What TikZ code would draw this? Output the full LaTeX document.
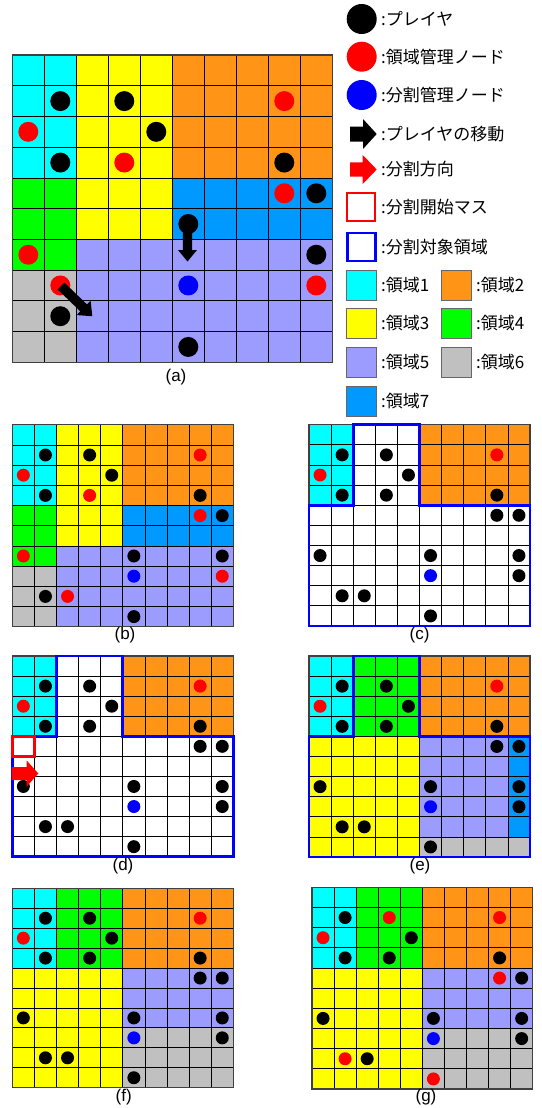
\documentclass[tikz,border=0pt]{standalone}
\usepackage{fontspec}
\newfontfamily\jp{Noto Sans CJK JP}
\newfontfamily\lab{Liberation Sans}
\definecolor{rcyan}{HTML}{00FFFF}
\definecolor{rorange}{HTML}{FF9416}
\definecolor{ryellow}{HTML}{FFFF00}
\definecolor{rgreen}{HTML}{00FF00}
\definecolor{rlav}{HTML}{9C9CFF}
\definecolor{rgray}{HTML}{C0C0C0}
\definecolor{rblue}{HTML}{0099FF}
\definecolor{mred}{HTML}{FF0000}
\definecolor{dblue}{HTML}{0000FF}
\tikzset{
  gl/.style={draw=black, line width=0.8pt},
  frame/.style={draw=black!75, line width=1.1pt},
  tb/.style={draw=dblue, line width=2.7pt, line join=miter},
  dotbase/.style={circle, inner sep=0pt, draw=none},
  plA/.style={dotbase, fill=black, minimum size=20pt},
  mgA/.style={dotbase, fill=mred, minimum size=20pt},
  dvA/.style={dotbase, fill=dblue, minimum size=20pt},
  pl/.style={dotbase, fill=black, minimum size=13pt},
  mg/.style={dotbase, fill=mred, minimum size=13pt},
  dv/.style={dotbase, fill=dblue, minimum size=13pt},
  plL/.style={dotbase, fill=black, minimum size=30pt},
  mgL/.style={dotbase, fill=mred, minimum size=30pt},
  dvL/.style={dotbase, fill=dblue, minimum size=30pt},
  txt/.style={anchor=west, inner sep=0pt, font=\jp\fontsize{17}{20}\selectfont},
  swatch/.style={rectangle, inner sep=0pt, minimum size=30pt, draw=black!60, line width=0.8pt},
  hollow/.style={rectangle, inner sep=0pt, minimum size=28pt, fill=white, line width=2.7pt},
  caplabel/.style={inner sep=0pt, font=\lab\fontsize{17}{20}\selectfont},
}
% block arrow: colour, x, y, angle, length, shaft half, head half, head length
\newcommand{\blockarrow}[8]{%
  \fill[#1, shift={(#2pt,-#3pt)}, rotate=#4]
    (0pt,-#6pt) -- (#5pt-#8pt,-#6pt) -- (#5pt-#8pt,-#7pt) -- (#5pt,0pt)
    -- (#5pt-#8pt,#7pt) -- (#5pt-#8pt,#6pt) -- (0pt,#6pt) -- cycle;}
\newcommand{\gridlines}{%
  \foreach \i in {1,...,9}{\draw[gl] (\i,0) -- (\i,10); \draw[gl] (0,\i) -- (10,\i);}
  \draw[frame] (0,0) rectangle (10,10);}
\newcommand{\targetborder}{%
  \draw[tb] (2,0) -- (5,0) -- (5,4) -- (10,4) -- (10,10) -- (0,10) -- (0,4) -- (2,4) -- cycle;}
\newcommand{\pd}[4]{\node[#1] (#2) at (#3+0.5,#4+0.5) {};}
\newcommand{\initfill}{%
  \fill[rcyan] (0,0) rectangle (2,4);
  \fill[ryellow] (2,0) rectangle (5,6);
  \fill[rorange] (5,0) rectangle (10,4);
  \fill[rblue] (5,4) rectangle (10,6);
  \fill[rgreen] (0,4) rectangle (2,7);
  \fill[rgray] (0,7) rectangle (2,10);
  \fill[rlav] (2,6) rectangle (10,10);}
\newcommand{\finalfill}{%
  \fill[rcyan] (0,0) rectangle (2,4);
  \fill[rgreen] (2,0) rectangle (5,4);
  \fill[rorange] (5,0) rectangle (10,4);
  \fill[ryellow] (0,4) rectangle (5,10);
  \fill[rlav] (5,4) rectangle (10,7);
  \fill[rgray] (5,7) rectangle (10,10);}
% players of the target stage (c)-(f)
\newcommand{\middots}[1]{%
  \pd{pl}{#1-1-1}{1}{1} \pd{pl}{#1-3-1}{3}{1} \pd{pl}{#1-4-2}{4}{2}
  \pd{pl}{#1-1-3}{1}{3} \pd{pl}{#1-3-3}{3}{3} \pd{pl}{#1-8-3}{8}{3}
  \pd{pl}{#1-8-4}{8}{4} \pd{pl}{#1-9-4}{9}{4} \pd{pl}{#1-0-6}{0}{6}
  \pd{pl}{#1-5-6}{5}{6} \pd{pl}{#1-9-6}{9}{6} \pd{pl}{#1-9-7}{9}{7}
  \pd{pl}{#1-1-8}{1}{8} \pd{pl}{#1-2-8}{2}{8} \pd{pl}{#1-5-9}{5}{9}
  \pd{mg}{#1-8-1}{8}{1} \pd{mg}{#1-0-2}{0}{2} \pd{dv}{#1-5-7}{5}{7}}
\begin{document}
\begin{tikzpicture}[x=1pt,y=-1pt]
\useasboundingbox[fill=white] (0,0) rectangle (541,1108);

% ---------------- (a)
\begin{scope}[shift={(12.3pt,-55pt)}, x=32pt, y=-30.73pt]
  \initfill
  \gridlines
  \pd{plA}{a-1-1}{1}{1} \pd{plA}{a-3-1}{3}{1} \pd{plA}{a-4-2}{4}{2}
  \pd{plA}{a-1-3}{1}{3} \pd{plA}{a-8-3}{8}{3} \pd{plA}{a-9-4}{9}{4}
  \pd{plA}{a-5-5}{5}{5} \pd{plA}{a-9-6}{9}{6} \pd{plA}{a-1-8}{1}{8}
  \pd{plA}{a-5-9}{5}{9}
  \pd{mgA}{a-8-1}{8}{1} \pd{mgA}{a-0-2}{0}{2} \pd{mgA}{a-3-3}{3}{3}
  \pd{mgA}{a-8-4}{8}{4} \pd{mgA}{a-0-6}{0}{6} \pd{mgA}{a-1-7}{1}{7}
  \pd{mgA}{a-9-7}{9}{7}
  \pd{dvA}{a-5-7}{5}{7}
\end{scope}
\blockarrow{black}{187.5}{228}{-90}{33.5}{4.6}{9.5}{11.5}
\blockarrow{black}{61}{286}{-44}{43.5}{4.8}{10}{12}
\node[caplabel] (cap-a) at (176,377) {(a)};

% ---------------- (b)
\begin{scope}[shift={(12.3pt,-424.7pt)}, x=22.1pt, y=-20.2pt]
  \initfill
  \gridlines
  \pd{pl}{b-1-1}{1}{1} \pd{pl}{b-3-1}{3}{1} \pd{pl}{b-4-2}{4}{2}
  \pd{pl}{b-1-3}{1}{3} \pd{pl}{b-8-3}{8}{3} \pd{pl}{b-9-4}{9}{4}
  \pd{pl}{b-5-6}{5}{6} \pd{pl}{b-9-6}{9}{6} \pd{pl}{b-1-8}{1}{8}
  \pd{pl}{b-5-9}{5}{9}
  \pd{mg}{b-8-1}{8}{1} \pd{mg}{b-0-2}{0}{2} \pd{mg}{b-3-3}{3}{3}
  \pd{mg}{b-8-4}{8}{4} \pd{mg}{b-0-6}{0}{6} \pd{mg}{b-9-7}{9}{7}
  \pd{mg}{b-2-8}{2}{8}
  \pd{dv}{b-5-7}{5}{7}
\end{scope}
\node[caplabel] (cap-b) at (125,635) {(b)};

% ---------------- (c)
\begin{scope}[shift={(309pt,-424.7pt)}, x=22.1pt, y=-20.13pt]
  \fill[rcyan] (0,0) rectangle (2,4);
  \fill[rorange] (5,0) rectangle (10,4);
  \gridlines
  \targetborder
  \middots{c}
\end{scope}
\node[caplabel] (cap-c) at (419.5,635) {(c)};

% ---------------- (d)
\begin{scope}[shift={(12.3pt,-656pt)}, x=22.1pt, y=-20.07pt]
  \fill[rcyan] (0,0) rectangle (2,4);
  \fill[rorange] (5,0) rectangle (10,4);
  \gridlines
  \targetborder
  \middots{d}
  \draw[draw=mred, line width=2.7pt] (0,4) rectangle (1,5);
\end{scope}
\blockarrow{mred}{11.7}{773.5}{0}{26.6}{6.5}{13}{11.6}
\node[caplabel] (cap-d) at (123,866) {(d)};

% ---------------- (e)
\begin{scope}[shift={(309pt,-656pt)}, x=22.1pt, y=-20.1pt]
  \fill[rcyan] (0,0) rectangle (2,4);
  \fill[rgreen] (2,0) rectangle (5,4);
  \fill[rorange] (5,0) rectangle (10,4);
  \fill[ryellow] (0,4) rectangle (5,10);
  \fill[rlav] (5,4) rectangle (9,9);
  \fill[rblue] (9,4) rectangle (10,9);
  \fill[rgray] (5,9) rectangle (10,10);
  \gridlines
  \targetborder
  \middots{e}
\end{scope}
\node[caplabel] (cap-e) at (420,866) {(e)};

% ---------------- (f)
\begin{scope}[shift={(12.3pt,-888.3pt)}, x=22.1pt, y=-19.94pt]
  \finalfill
  \gridlines
  \middots{f}
\end{scope}
\node[caplabel] (cap-f) at (123.7,1097) {(f)};

% ---------------- (g)
\begin{scope}[shift={(312pt,-887.3pt)}, x=22.07pt, y=-20.17pt]
  \finalfill
  \gridlines
  \pd{pl}{g-1-1}{1}{1} \pd{pl}{g-4-2}{4}{2} \pd{pl}{g-1-3}{1}{3}
  \pd{pl}{g-3-3}{3}{3} \pd{pl}{g-8-3}{8}{3} \pd{pl}{g-9-4}{9}{4}
  \pd{pl}{g-0-6}{0}{6} \pd{pl}{g-5-6}{5}{6} \pd{pl}{g-9-6}{9}{6}
  \pd{pl}{g-9-7}{9}{7} \pd{pl}{g-2-8}{2}{8}
  \pd{mg}{g-3-1}{3}{1} \pd{mg}{g-8-1}{8}{1} \pd{mg}{g-0-2}{0}{2}
  \pd{mg}{g-8-4}{8}{4} \pd{mg}{g-1-8}{1}{8} \pd{mg}{g-5-9}{5}{9}
  \pd{dv}{g-5-7}{5}{7}
\end{scope}
\node[caplabel] (cap-g) at (426,1097) {(g)};

% ---------------- legend
\node[plL] (lg-pl) at (361.7,19) {};
\node[txt] (lt-pl) at (381,19) {:プレイヤ};
\node[mgL] (lg-mg) at (361.7,56.7) {};
\node[txt] (lt-mg) at (381,56.7) {:領域管理ノード};
\node[dvL] (lg-dv) at (361.7,95) {};
\node[txt] (lt-dv) at (381,95) {:分割管理ノード};
\blockarrow{black}{350}{134}{0}{26.7}{7.5}{15}{13.7}
\node[txt] (lt-mv) at (381,134) {:プレイヤの移動};
\blockarrow{mred}{350}{169.5}{0}{26.7}{7.2}{14.5}{14}
\node[txt] (lt-dir) at (381,169.5) {:分割方向};
\node[hollow, draw=mred] (lg-start) at (361,207) {};
\node[txt] (lt-start) at (381,207) {:分割開始マス};
\node[hollow, draw=dblue] (lg-target) at (361.5,247) {};
\node[txt] (lt-target) at (381,247) {:分割対象領域};
\node[swatch, fill=rcyan] (sw1) at (361.7,285.5) {};
\node[txt] (st1) at (381,285.5) {:領域1};
\node[swatch, fill=rorange] (sw2) at (456.7,285.5) {};
\node[txt] (st2) at (476,285.5) {:領域2};
\node[swatch, fill=ryellow] (sw3) at (361.7,323) {};
\node[txt] (st3) at (381,323) {:領域3};
\node[swatch, fill=rgreen] (sw4) at (456.7,323) {};
\node[txt] (st4) at (476,323) {:領域4};
\node[swatch, fill=rlav] (sw5) at (361.7,362) {};
\node[txt] (st5) at (381,362) {:領域5};
\node[swatch, fill=rgray] (sw6) at (456.7,362) {};
\node[txt] (st6) at (476,362) {:領域6};
\node[swatch, fill=rblue] (sw7) at (361.7,401) {};
\node[txt] (st7) at (381,401) {:領域7};
\end{tikzpicture}
\end{document}
